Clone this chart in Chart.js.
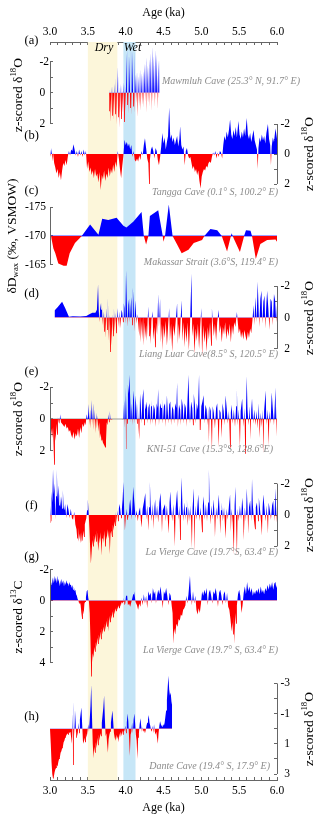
<!DOCTYPE html>
<html>
<head>
<meta charset="utf-8">
<script src="https://cdn.jsdelivr.net/npm/chart.js@4.4.1/dist/chart.umd.min.js"></script>
<style>
  html, body { margin: 0; padding: 0; background: #fff; }
  #wrap { width: 320px; height: 819px; }
</style>
</head>
<body>
<div id="wrap"><canvas id="chart" width="320" height="819"></canvas></div>
<script>
// Age axis (ka)
const xTicks = [3.0,3.1,3.2,3.3,3.4,3.5,3.6,3.7,3.8,3.9,4.0,4.1,4.2,4.3,4.4,4.5,4.6,4.7,4.8,4.9,5.0,5.1,5.2,5.3,5.4,5.5,5.6,5.7,5.8,5.9,6.0];
const xLabels = [3.0, 3.5, 4.0, 4.5, 5.0, 5.5, 6.0];
const dryBand = [3.50, 3.89];
const wetBand = [3.97, 4.13];

// y ticks
const zTicks = [-2, -1, 0, 1, 2];
const zLabels = [-2, 0, 2];
const dDTicks = [-175, -170, -165];
const c13Ticks = [-2, -1, 0, 1, 2, 3, 4];
const c13Labels = [-2, 0, 2, 4];
const danteTicks = [-3, -2, -1, 0, 1, 2, 3];
const danteLabels = [-3, -1, 1, 3];

// (a) Mawmluh Cave, z-scored d18O  [age, value]
const mawmluh = [
[3.78,1.2],[3.79,-0.3],[3.80,1.9],[3.81,-0.4],[3.82,1.5],[3.83,-0.5],[3.84,1.8],[3.85,-0.6],[3.86,1.4],[3.87,-1.0],
[3.88,2.1],[3.89,-1.7],[3.90,1.6],[3.91,-1.2],[3.92,2.3],[3.93,-0.6],[3.94,1.7],[3.95,-0.5],[3.96,1.3],[3.97,-0.7],
[3.98,1.9],[3.99,-0.6],[4.00,1.2],[4.01,-2.6],[4.02,0.8],[4.03,-2.9],[4.04,1.4],[4.05,-2.4],[4.06,1.0],[4.07,-3.1],
[4.08,1.5],[4.09,-2.7],[4.10,0.9],[4.11,-2.8],[4.12,1.3],[4.13,-1.2],[4.14,0.7],[4.15,-1.4],[4.16,1.6],[4.17,-1.1],
[4.18,0.9],[4.19,-1.5],[4.20,1.2],[4.21,-1.3],[4.22,0.8],[4.23,-1.4],[4.24,1.0],[4.25,-1.9],[4.26,0.6],[4.27,-2.3],
[4.28,1.3],[4.29,-1.8],[4.30,0.7],[4.31,-2.2],[4.32,0.9],[4.33,-2.6],[4.34,1.2],[4.35,-3.0],[4.36,0.6],[4.37,-2.4],
[4.38,1.0],[4.39,-2.8],[4.40,0.5],[4.41,-2.5],[4.42,1.1],[4.43,-2.1],[4.44,0.4],[4.45,-2.2]
];

// (b) Tangga Cave, z-scored d18O
const tangga = [
[3.000,-0.3],[3.010,0.2],[3.020,-0.4],[3.030,0.5],[3.040,-0.1],[3.055,0.6],[3.070,0.9],[3.085,1.3],[3.100,1.0],[3.115,1.6],
[3.130,1.2],[3.145,1.75],[3.160,1.1],[3.175,0.6],[3.190,0.8],[3.205,0.4],[3.220,0.75],[3.235,0.2],[3.250,-0.2],[3.265,0.1],
[3.280,-0.3],[3.295,-0.2],[3.310,-0.65],[3.325,-0.3],[3.340,0.1],[3.355,-0.2],[3.370,0.2],[3.385,-0.3],[3.400,0.1],[3.415,-0.2],
[3.430,0.2],[3.445,-0.3],[3.460,0.1],[3.475,-0.2],[3.490,1.0],[3.505,0.5],[3.520,1.2],[3.535,0.9],[3.550,1.4],[3.565,1.1],
[3.580,1.6],[3.595,1.0],[3.610,1.5],[3.625,1.3],[3.640,1.9],[3.655,1.2],[3.670,2.4],[3.685,1.4],[3.700,1.7],[3.715,1.1],
[3.730,1.8],[3.745,1.3],[3.760,1.6],[3.775,0.9],[3.790,1.5],[3.805,1.0],[3.820,1.3],[3.835,0.7],[3.850,1.2],[3.865,0.5],
[3.880,0.9],[3.895,-0.2],[3.910,0.3],[3.925,1.0],[3.940,1.6],[3.955,0.8],[3.970,0.1],[3.985,-0.95],[4.000,-0.6],[4.015,-0.8],
[4.030,-0.5],[4.045,-0.7],[4.060,-0.3],[4.075,-0.6],[4.090,0.2],[4.105,-0.2],[4.120,0.4],[4.135,0.5],[4.150,0.3],[4.165,0.5],
[4.180,0.1],[4.195,0.4],[4.210,-0.2],[4.225,0.1],[4.240,-0.6],[4.255,-1.05],[4.270,-0.4],[4.285,0.3],[4.300,0.6],[4.310,2.0],
[4.320,0.4],[4.335,-0.3],[4.350,-0.5],[4.365,-0.2],[4.380,0.3],[4.395,-0.4],[4.410,-0.2],[4.425,0.4],[4.440,0.75],[4.455,0.2],
[4.470,-0.5],[4.485,-1.4],[4.500,-0.7],[4.515,-1.1],[4.530,-0.3],[4.545,-0.8],[4.560,-1.2],[4.575,-3.1],[4.590,-1.0],[4.605,-1.3],
[4.620,-0.8],[4.635,-1.1],[4.650,-0.6],[4.665,-0.9],[4.680,-1.2],[4.695,-0.5],[4.710,-1.0],[4.720,-1.85],[4.735,-0.6],[4.750,-0.3],
[4.765,-0.5],[4.780,0.75],[4.795,-0.2],[4.810,-0.4],[4.825,0.1],[4.840,0.3],[4.855,0.2],[4.870,0.6],[4.885,1.0],[4.900,0.8],
[4.915,1.2],[4.930,1.0],[4.945,1.4],[4.960,1.1],[4.975,1.8],[4.990,2.3],[5.005,1.5],[5.020,1.2],[5.035,1.0],[5.050,1.1],
[5.065,0.8],[5.080,0.9],[5.095,0.6],[5.110,0.5],[5.125,0.6],[5.140,0.2],[5.155,-0.1],[5.170,0.1],[5.185,-0.2],[5.200,0.3],
[5.215,-0.1],[5.230,0.2],[5.245,-0.2],[5.260,-0.1],[5.275,0.3],[5.290,-0.6],[5.305,-1.2],[5.320,-0.9],[5.335,-1.5],[5.350,-1.1],
[5.365,-1.6],[5.380,-2.3],[5.395,-1.3],[5.410,-1.0],[5.425,-1.6],[5.440,-1.2],[5.455,-1.8],[5.470,-1.1],[5.490,-2.2],[5.505,-1.3],
[5.520,-1.0],[5.535,-1.5],[5.550,-1.1],[5.565,-1.7],[5.580,-1.2],[5.600,-2.4],[5.615,-1.3],[5.630,-1.0],[5.645,-1.4],[5.660,-0.8],
[5.675,-1.2],[5.690,-1.6],[5.705,-0.9],[5.720,-0.6],[5.735,-0.3],[5.745,1.0],[5.755,-0.4],[5.770,-1.1],[5.785,-0.8],[5.800,-1.3],
[5.815,-0.9],[5.830,-1.2],[5.845,-0.7],[5.860,-1.4],[5.880,-2.0],[5.895,-1.0],[5.910,-0.6],[5.920,0.75],[5.930,-0.5],[5.945,-1.1],
[5.960,-0.8],[5.980,-1.7],[6.000,-1.0]
];

// (c) Makassar Strait, dD wax (permil VSMOW)
const makassar = [
[3.000,-171.5],[3.010,-170.6],[3.020,-169.5],[3.045,-167.8],[3.070,-167.0],[3.110,-165.2],[3.180,-164.8],[3.220,-164.8],
[3.260,-167.0],[3.330,-168.8],[3.420,-170.0],[3.530,-172.0],[3.640,-170.2],[3.690,-173.0],[3.770,-172.8],[3.880,-173.2],
[3.970,-171.8],[4.010,-171.5],[4.100,-172.5],[4.210,-174.2],[4.240,-170.0],[4.270,-168.5],[4.300,-170.0],[4.320,-173.5],
[4.430,-174.5],[4.490,-170.0],[4.500,-169.0],[4.520,-170.0],[4.570,-175.5],[4.620,-170.0],[4.680,-168.5],[4.740,-167.0],
[4.830,-167.6],[4.900,-168.8],[5.010,-169.3],[5.040,-170.0],[5.120,-171.2],[5.210,-171.0],[5.270,-170.0],[5.340,-167.3],
[5.400,-170.5],[5.430,-169.5],[5.510,-167.2],[5.570,-170.2],[5.590,-171.0],[5.650,-170.9],[5.670,-170.0],[5.720,-166.0],
[5.780,-168.6],[5.870,-169.3],[5.980,-169.4],[6.000,-169.0]
];

// (d) Liang Luar Cave, z-scored d18O
const liangLuar = [
[3.057,0],[3.060,-0.45],[3.100,-0.65],[3.160,-1.0],[3.200,-0.6],[3.250,-0.05],[3.300,-0.08],[3.400,-0.06],[3.480,-0.1],[3.520,-0.2],
[3.560,-0.3],[3.600,-0.3],[3.620,-0.5],[3.635,-2.1],[3.645,-0.4],[3.655,0.3],[3.665,-0.9],[3.675,-0.5],[3.685,-1.0],[3.695,0.5],
[3.705,-0.4],[3.715,0.9],[3.725,-0.3],[3.735,1.3],[3.745,-0.6],[3.755,0.8],[3.765,-1.3],[3.775,1.5],[3.785,-0.2],[3.795,2.2],
[3.805,0.4],[3.815,1.8],[3.825,-0.2],[3.835,1.2],[3.845,-0.6],[3.855,0.9],[3.865,-0.3],[3.875,1.0],[3.885,0.3],[3.895,-0.6],
[3.905,0.6],[3.915,-0.4],[3.925,0.7],[3.935,0.2],[3.945,-0.5],[3.955,-0.3],[3.965,0.3],[3.975,-0.9],[3.985,-0.6],[3.995,0.4],
[4.005,-3.0],[4.015,-1.0],[4.025,0.6],[4.035,-0.8],[4.045,-1.2],[4.055,0.3],[4.065,-0.6],[4.075,-1.3],[4.085,0.5],[4.095,-1.9],
[4.105,-0.9],[4.115,0.9],[4.125,-1.1],[4.135,-0.4],[4.145,0.4],[4.155,-0.2],[4.165,0.3],[4.180,1.2],[4.190,-0.1],[4.200,1.6],
[4.210,0.2],[4.220,1.4],[4.230,-0.1],[4.240,1.8],[4.250,0.3],[4.260,1.3],[4.270,0.5],[4.280,1.5],[4.290,0.2],[4.300,-0.7],
[4.310,1.2],[4.320,0.4],[4.330,1.7],[4.340,0.2],[4.355,-0.4],[4.365,1.4],[4.380,0.6],[4.390,1.9],[4.400,0.3],[4.415,1.1],
[4.430,-1.5],[4.440,0.6],[4.455,-1.2],[4.465,1.6],[4.480,0.4],[4.490,2.1],[4.500,0.5],[4.515,1.3],[4.530,0.2],[4.545,1.8],
[4.560,0.6],[4.575,-0.6],[4.585,1.5],[4.600,0.4],[4.615,2.2],[4.630,0.5],[4.645,1.2],[4.660,0.3],[4.680,-0.9],[4.690,1.7],
[4.700,0.4],[4.715,1.4],[4.725,0.2],[4.740,-1.1],[4.750,1.5],[4.765,0.3],[4.780,1.9],[4.790,0.6],[4.805,1.6],[4.820,0.3],
[4.835,2.1],[4.850,0.5],[4.870,-2.8],[4.880,1.2],[4.895,0.4],[4.910,2.3],[4.925,0.7],[4.940,1.5],[4.955,0.4],[4.970,2.0],
[4.985,0.6],[5.000,-0.6],[5.010,2.5],[5.025,0.5],[5.040,1.6],[5.055,0.8],[5.070,2.2],[5.085,0.6],[5.100,1.4],[5.115,0.3],
[5.130,1.8],[5.140,-0.6],[5.150,0.2],[5.165,1.2],[5.180,0.4],[5.195,1.5],[5.210,0.3],[5.230,-0.5],[5.240,1.0],[5.255,0.5],
[5.270,1.6],[5.285,0.6],[5.300,1.1],[5.315,0.3],[5.330,1.4],[5.345,0.7],[5.360,1.2],[5.375,0.4],[5.390,1.6],[5.405,0.5],
[5.420,1.1],[5.435,0.3],[5.450,0.6],[5.470,-0.35],[5.480,0.2],[5.495,1.0],[5.510,0.7],[5.525,1.3],[5.540,0.9],[5.555,1.4],
[5.570,0.8],[5.585,1.2],[5.600,1.5],[5.615,0.9],[5.630,1.3],[5.645,0.7],[5.660,1.0],[5.675,0.2],[5.690,-0.8],[5.700,0.5],
[5.715,-1.3],[5.730,0.3],[5.745,-2.3],[5.755,-0.8],[5.765,0.6],[5.780,-1.2],[5.795,-1.7],[5.805,0.4],[5.820,-1.0],[5.835,-1.4],
[5.845,0.7],[5.860,-0.9],[5.870,-1.7],[5.885,-0.6],[5.900,0.8],[5.915,-1.2],[5.930,-1.0],[5.945,0.5],[5.960,-1.5],[5.975,-1.1],
[5.990,0.3],[6.000,-0.8]
];

// (e) KNI-51 Cave, z-scored d18O
const kni51 = [
[3.000,0.8],[3.010,1.5],[3.020,0.6],[3.030,1.2],[3.040,0.5],[3.055,2.9],[3.065,0.9],[3.075,1.4],[3.085,0.3],[3.095,1.0],
[3.105,-0.1],[3.115,0.2],[3.125,0.3],[3.135,-0.3],[3.145,0.2],[3.160,0.3],[3.175,0.4],[3.190,0.5],[3.205,0.3],[3.220,0.6],
[3.235,0.5],[3.250,0.8],[3.265,0.7],[3.280,1.0],[3.295,1.2],[3.310,0.8],[3.325,1.3],[3.340,0.9],[3.355,1.1],[3.370,0.6],
[3.385,1.2],[3.400,0.5],[3.415,0.9],[3.430,0.3],[3.445,0.5],[3.460,0.2],[3.470,0.4],[3.485,-0.3],[3.500,0.1],[3.510,-0.95],
[3.520,0.4],[3.530,-0.6],[3.540,0.6],[3.550,-1.2],[3.560,0.4],[3.570,-1.0],[3.580,0.7],[3.590,-0.6],[3.600,0.9],[3.610,-0.4],
[3.620,0.6],[3.630,-0.2],[3.640,0.8],[3.650,0.2],[3.660,1.2],[3.670,0.9],[3.680,1.4],[3.690,1.3],[3.700,1.5],[3.710,1.6],
[3.720,1.7],[3.730,1.8],[3.740,1.4],[3.750,0.2],[3.760,0.4],[3.770,-0.3],[3.780,0.2],[3.790,-0.5],[3.800,0.05],[3.830,0],
[3.880,0],[3.940,0],[3.970,0.02],[3.980,-1.2],[3.990,0.6],[4.000,-2.0],[4.005,1.9],[4.010,-1.5],[4.020,0.3],[4.030,-2.2],
[4.040,-1.6],[4.050,-2.8],[4.060,-1.2],[4.070,0.2],[4.080,-1.0],[4.090,0.4],[4.100,-1.8],[4.110,-1.2],[4.120,0.3],[4.130,-1.5],
[4.140,-0.8],[4.150,0.3],[4.160,-1.0],[4.170,0.5],[4.180,1.3],[4.190,-1.6],[4.200,-0.9],[4.210,0.3],[4.220,-1.2],[4.235,-1.9],
[4.245,0.4],[4.255,-1.0],[4.265,-0.6],[4.280,-1.1],[4.290,0.3],[4.300,-0.7],[4.315,-1.0],[4.325,0.4],[4.335,-0.8],[4.345,-1.2],
[4.355,0.3],[4.370,-0.9],[4.385,-0.6],[4.395,0.5],[4.410,-1.0],[4.420,-0.7],[4.430,-1.9],[4.440,0.4],[4.455,-1.0],[4.470,-0.7],
[4.480,-1.3],[4.490,0.3],[4.505,-0.8],[4.520,-1.0],[4.530,0.5],[4.545,-1.5],[4.555,-0.6],[4.565,0.3],[4.575,-0.9],[4.590,-1.1],
[4.600,0.4],[4.615,-0.8],[4.630,-0.6],[4.640,0.3],[4.655,-1.0],[4.670,-0.7],[4.680,-2.3],[4.690,0.5],[4.705,-0.9],[4.720,-0.6],
[4.730,0.4],[4.740,-1.3],[4.755,-0.8],[4.765,0.3],[4.780,-1.0],[4.795,-0.7],[4.805,0.5],[4.815,-0.9],[4.830,-2.8],[4.840,-0.8],
[4.850,0.3],[4.865,-1.1],[4.880,-0.7],[4.890,0.4],[4.900,-1.6],[4.915,-0.9],[4.925,0.3],[4.940,-1.0],[4.955,-0.6],[4.970,-2.8],
[4.980,0.7],[4.990,0.7],[5.000,-0.8],[5.015,-1.1],[5.030,-1.5],[5.040,0.3],[5.055,-0.9],[5.070,-0.6],[5.080,0.4],[5.090,-0.7],
[5.100,1.5],[5.110,-0.8],[5.125,-0.5],[5.140,2.0],[5.150,-0.8],[5.165,-0.4],[5.180,0.6],[5.195,-0.7],[5.210,-1.0],[5.220,0.4],
[5.230,1.8],[5.240,-0.6],[5.255,-0.4],[5.270,1.2],[5.280,-1.0],[5.295,-0.5],[5.310,0.4],[5.320,-1.5],[5.335,-0.7],[5.350,0.3],
[5.365,-0.5],[5.380,1.8],[5.390,-0.4],[5.400,-0.9],[5.415,0.3],[5.430,-0.6],[5.445,0.5],[5.460,-0.8],[5.470,-1.9],[5.480,0.4],
[5.495,-0.6],[5.510,1.8],[5.520,-0.5],[5.540,-1.3],[5.555,0.5],[5.570,-0.7],[5.580,2.2],[5.590,-0.5],[5.600,-2.7],[5.610,-0.6],
[5.625,0.4],[5.640,-0.8],[5.650,1.3],[5.660,-0.6],[5.670,-1.3],[5.685,0.3],[5.700,-0.6],[5.715,0.4],[5.730,-0.5],[5.745,0.6],
[5.760,-1.0],[5.770,1.2],[5.785,-0.4],[5.800,0.5],[5.810,-0.6],[5.820,2.2],[5.830,-0.5],[5.850,-1.8],[5.860,0.4],[5.875,-0.6],
[5.890,1.7],[5.900,-0.5],[5.915,0.3],[5.930,-1.7],[5.945,-0.6],[5.960,0.4],[5.980,-2.0],[5.990,1.1],[6.000,-0.8]
];

// (f) La Vierge Cave, z-scored d18O
const vierge18 = [
[3.000,0.5],[3.005,-0.6],[3.015,0.4],[3.020,-1.5],[3.030,-0.8],[3.040,-2.9],[3.050,-1.3],[3.060,-2.0],[3.070,0.3],[3.080,-1.2],
[3.090,-2.9],[3.100,-1.0],[3.110,-1.9],[3.120,-0.6],[3.130,-1.4],[3.140,-0.5],[3.150,-1.2],[3.160,-0.4],[3.170,-1.6],[3.180,-0.5],
[3.190,-0.3],[3.200,-0.7],[3.215,0.2],[3.230,-0.7],[3.245,-0.3],[3.260,0.2],[3.275,-0.4],[3.290,0.2],[3.305,0.3],[3.320,-0.2],
[3.335,0.6],[3.350,0.9],[3.360,1.5],[3.370,0.8],[3.380,1.7],[3.390,1.2],[3.400,1.8],[3.410,1.1],[3.420,1.7],[3.430,1.6],
[3.440,1.0],[3.450,1.4],[3.460,0.6],[3.470,0.4],[3.480,0.2],[3.490,-0.3],[3.500,-1.0],[3.510,-0.2],[3.520,0.8],[3.530,2.0],
[3.540,3.1],[3.550,2.4],[3.560,1.6],[3.570,2.0],[3.580,1.3],[3.590,1.8],[3.600,1.2],[3.610,1.7],[3.620,1.0],[3.630,1.7],
[3.640,2.3],[3.650,1.4],[3.660,1.8],[3.670,1.1],[3.680,2.6],[3.690,1.5],[3.700,1.2],[3.710,1.8],[3.720,1.0],[3.730,2.0],
[3.740,1.3],[3.750,1.6],[3.760,0.9],[3.770,1.5],[3.780,1.0],[3.790,2.5],[3.800,1.2],[3.810,1.0],[3.820,1.4],[3.830,0.6],
[3.840,1.0],[3.850,0.4],[3.860,0.7],[3.870,-0.2],[3.880,0.5],[3.890,-0.3],[3.900,0.4],[3.910,-0.4],[3.920,-0.7],[3.930,-0.3],
[3.940,0.2],[3.950,-0.4],[3.960,-1.0],[3.970,-2.1],[3.980,-0.3],[3.990,1.0],[4.000,0.2],[4.010,-0.4],[4.020,0.3],[4.030,-0.2],
[4.040,0.2],[4.050,-0.6],[4.060,-1.0],[4.070,-0.4],[4.080,0.3],[4.090,-0.7],[4.100,-1.8],[4.110,-1.1],[4.120,-0.5],[4.130,0.2],
[4.145,-0.3],[4.160,0.4],[4.175,-0.2],[4.190,-0.5],[4.200,0.3],[4.210,0.8],[4.225,-0.4],[4.240,-0.8],[4.260,-1.4],[4.270,0.3],
[4.285,-0.6],[4.300,1.0],[4.310,-0.5],[4.320,-2.1],[4.330,-0.6],[4.345,0.4],[4.360,-0.7],[4.370,0.9],[4.380,-0.5],[4.390,-1.0],
[4.400,0.3],[4.415,-0.6],[4.430,0.5],[4.445,-0.8],[4.460,-1.4],[4.470,-0.4],[4.480,1.1],[4.490,-0.3],[4.505,-0.5],[4.520,-0.7],
[4.530,0.4],[4.545,-0.6],[4.560,0.5],[4.570,1.2],[4.580,-0.8],[4.590,-1.5],[4.600,-0.5],[4.615,0.4],[4.630,-0.7],[4.640,0.6],
[4.650,2.0],[4.660,-0.4],[4.680,-1.6],[4.690,-0.5],[4.700,0.3],[4.710,-0.6],[4.720,1.6],[4.730,-0.7],[4.740,-2.4],[4.750,-0.6],
[4.760,0.4],[4.775,-0.8],[4.790,0.3],[4.800,-0.5],[4.810,-1.0],[4.820,0.7],[4.835,-0.5],[4.850,0.4],[4.860,-0.6],[4.875,2.1],
[4.885,-0.5],[4.900,-1.7],[4.910,2.4],[4.920,-0.6],[4.935,0.3],[4.950,-0.7],[4.960,-1.3],[4.975,0.4],[4.990,-0.5],[5.010,1.1],
[5.020,-0.6],[5.030,-1.2],[5.045,0.3],[5.060,-0.7],[5.075,0.4],[5.090,-0.8],[5.100,-2.9],[5.110,-0.8],[5.120,0.6],[5.135,-0.6],
[5.150,0.3],[5.160,-1.0],[5.170,-0.4],[5.180,1.4],[5.195,-0.5],[5.210,0.3],[5.230,-1.3],[5.240,-0.4],[5.250,1.2],[5.260,-0.3],
[5.270,-0.8],[5.285,0.4],[5.300,-0.5],[5.320,1.5],[5.335,-0.4],[5.350,0.3],[5.365,-0.6],[5.380,-1.3],[5.390,1.1],[5.400,-0.4],
[5.415,0.5],[5.430,2.5],[5.440,-0.6],[5.450,-1.8],[5.460,0.6],[5.470,2.6],[5.480,-0.4],[5.495,0.4],[5.510,-0.6],[5.525,0.3],
[5.540,-1.1],[5.550,-0.5],[5.560,1.6],[5.575,-0.5],[5.590,0.4],[5.600,-1.7],[5.610,-0.6],[5.620,1.2],[5.630,-0.5],[5.645,-0.9],
[5.660,0.4],[5.670,-2.3],[5.680,-0.7],[5.695,0.3],[5.710,0.9],[5.720,-0.5],[5.735,-0.8],[5.750,0.4],[5.760,-1.1],[5.775,-0.4],
[5.790,0.5],[5.800,1.3],[5.810,-0.5],[5.820,-1.3],[5.835,-0.4],[5.850,0.4],[5.865,-0.6],[5.880,1.2],[5.890,-0.8],[5.905,-0.3],
[5.920,0.3],[5.935,-0.6],[5.950,-0.9],[5.965,0.4],[5.980,-1.7],[5.990,0.5],[6.000,-0.6]
];

// (g) La Vierge Cave, z-scored d13C
const vierge13 = [
[3.000,0.3],[3.005,-0.6],[3.015,-1.2],[3.025,-0.9],[3.035,-1.5],[3.045,-1.1],[3.055,-1.6],[3.065,-1.2],[3.075,-1.5],[3.085,-1.1],
[3.095,-1.6],[3.105,-1.2],[3.115,-1.4],[3.125,-0.9],[3.135,-1.3],[3.145,-1.0],[3.155,-1.4],[3.165,-1.1],[3.175,-1.3],[3.185,-0.9],
[3.195,-1.2],[3.205,-1.0],[3.215,-1.3],[3.225,-1.1],[3.235,-1.2],[3.245,-0.9],[3.255,-1.2],[3.265,-1.0],[3.275,-1.1],[3.285,-0.8],
[3.295,-1.0],[3.305,-0.7],[3.315,-0.9],[3.325,-0.6],[3.335,-0.7],[3.345,-0.4],[3.355,-0.3],[3.365,-0.1],[3.375,0.0],[3.385,0.2],
[3.395,0.1],[3.405,0.3],[3.415,0.8],[3.425,1.2],[3.435,0.6],[3.445,0.9],[3.455,0.2],[3.465,0.1],[3.475,-0.2],[3.485,-0.6],
[3.495,-0.7],[3.505,-0.2],[3.515,0.1],[3.525,0.8],[3.535,2.6],[3.545,4.9],[3.555,4.0],[3.565,3.4],[3.575,3.7],[3.585,3.0],
[3.595,3.3],[3.605,2.7],[3.615,3.0],[3.625,2.4],[3.635,2.8],[3.645,2.2],[3.655,2.6],[3.665,2.0],[3.675,2.5],[3.685,1.8],
[3.695,2.2],[3.705,1.7],[3.715,2.0],[3.725,1.5],[3.735,1.9],[3.745,1.3],[3.755,1.7],[3.765,1.1],[3.775,2.0],[3.785,1.0],
[3.795,1.4],[3.805,0.9],[3.815,1.2],[3.825,0.7],[3.835,1.1],[3.845,0.6],[3.855,0.9],[3.865,0.5],[3.875,0.7],[3.885,0.4],
[3.895,0.6],[3.905,0.3],[3.915,0.5],[3.925,0.2],[3.935,0.4],[3.945,0.1],[3.955,0.2],[3.965,0.1],[3.975,-0.2],[3.985,0.3],
[3.995,0.2],[4.005,-0.3],[4.020,-0.3],[4.030,0.3],[4.045,0.2],[4.060,0.4],[4.075,0.1],[4.090,-0.2],[4.100,-0.4],[4.110,-0.6],
[4.120,-0.3],[4.130,0.1],[4.150,0.3],[4.165,0.6],[4.180,0.2],[4.195,0.4],[4.210,-0.2],[4.225,0.3],[4.240,-0.4],[4.255,0.2],
[4.270,-0.3],[4.285,0.5],[4.300,-0.6],[4.315,-0.3],[4.330,-0.5],[4.345,0.2],[4.360,-0.8],[4.375,-0.4],[4.390,-0.6],[4.400,0.2],
[4.415,-0.3],[4.430,-0.7],[4.445,-0.4],[4.460,-0.9],[4.475,-0.3],[4.490,0.5],[4.505,-0.6],[4.520,-0.4],[4.535,-0.8],[4.550,-0.3],
[4.565,0.3],[4.580,-0.5],[4.595,-0.3],[4.610,0.4],[4.620,0.8],[4.630,2.8],[4.640,1.8],[4.655,2.2],[4.670,1.5],[4.685,1.7],
[4.700,1.2],[4.715,1.3],[4.730,0.9],[4.745,1.0],[4.760,0.6],[4.775,0.5],[4.790,0.3],[4.800,-0.3],[4.815,0.2],[4.830,-0.4],
[4.850,-1.6],[4.860,-0.5],[4.875,0.3],[4.890,-0.6],[4.905,0.2],[4.920,-0.3],[4.935,0.6],[4.950,0.9],[4.965,0.5],[4.980,0.8],
[4.995,0.2],[5.010,-0.6],[5.025,-0.3],[5.040,-0.7],[5.055,-0.4],[5.070,-0.8],[5.085,0.3],[5.100,-0.5],[5.115,-0.7],[5.130,-0.3],
[5.145,0.2],[5.160,-0.6],[5.175,-0.4],[5.190,-0.8],[5.205,-0.3],[5.220,0.4],[5.235,-0.5],[5.250,-0.7],[5.265,-0.3],[5.280,0.3],
[5.295,-0.4],[5.310,-0.6],[5.325,0.2],[5.340,-0.5],[5.355,0.4],[5.370,0.6],[5.385,1.2],[5.400,2.0],[5.410,1.4],[5.420,2.2],
[5.430,1.0],[5.440,2.8],[5.450,0.8],[5.460,1.5],[5.470,0.3],[5.485,-0.4],[5.500,-0.7],[5.515,-0.3],[5.530,0.8],[5.545,0.3],
[5.560,-0.5],[5.575,-0.9],[5.590,-0.4],[5.605,-1.2],[5.620,-0.6],[5.635,-0.9],[5.650,-0.5],[5.665,-0.8],[5.680,-0.3],[5.695,-0.6],
[5.710,-0.4],[5.725,-0.7],[5.740,-0.5],[5.755,-0.8],[5.770,-0.4],[5.785,-0.9],[5.800,-0.5],[5.815,-0.7],[5.830,-0.4],[5.845,-0.8],
[5.860,-0.6],[5.875,-1.0],[5.890,-0.7],[5.905,-1.1],[5.920,-0.8],[5.935,-1.2],[5.950,-0.7],[5.965,-1.1],[5.980,-1.2],[5.990,-0.8],
[6.000,-1.0]
];

// (h) Dante Cave, z-scored d18O
const dante = [
[3.000,0.0],[3.010,1.0],[3.020,2.2],[3.030,3.0],[3.040,3.3],[3.050,3.2],[3.060,2.9],[3.070,2.7],[3.080,2.6],[3.090,2.4],
[3.100,2.5],[3.110,2.2],[3.120,2.0],[3.130,1.9],[3.140,1.6],[3.150,1.5],[3.160,1.3],[3.170,1.2],[3.180,0.9],[3.190,0.8],
[3.200,0.6],[3.210,0.5],[3.220,0.4],[3.230,0.3],[3.240,0.4],[3.250,0.2],[3.260,0.3],[3.270,0.2],[3.280,0.6],[3.290,1.0],
[3.300,-1.0],[3.305,2.4],[3.315,-1.8],[3.325,0.5],[3.335,-1.2],[3.345,0.6],[3.355,0.2],[3.365,0.5],[3.375,-0.4],[3.385,0.3],
[3.395,-0.6],[3.405,-1.0],[3.415,-1.4],[3.425,-0.3],[3.435,0.8],[3.445,1.0],[3.455,0.6],[3.465,0.9],[3.475,0.3],[3.485,0.6],
[3.495,0.2],[3.505,-0.3],[3.515,0.2],[3.525,-0.6],[3.535,-1.5],[3.545,-2.9],[3.555,-0.8],[3.565,1.0],[3.575,1.96],[3.585,1.2],
[3.595,1.6],[3.605,0.9],[3.615,1.3],[3.625,0.6],[3.635,1.1],[3.645,0.4],[3.655,0.8],[3.665,0.3],[3.675,0.5],[3.685,-0.4],
[3.695,-0.9],[3.705,-1.4],[3.715,-2.2],[3.725,-0.7],[3.735,0.5],[3.745,0.3],[3.755,1.0],[3.765,1.6],[3.775,0.7],[3.785,0.4],
[3.795,0.2],[3.805,-0.4],[3.815,-0.8],[3.825,-1.2],[3.835,-0.5],[3.845,0.3],[3.855,0.6],[3.865,0.8],[3.875,0.4],[3.885,0.7],
[3.895,0.5],[3.905,0.9],[3.915,0.3],[3.925,0.6],[3.935,0.2],[3.945,0.5],[3.955,0.1],[3.965,0.4],[3.975,0.2],[3.985,0.1],
[3.995,-0.2],[4.005,0.3],[4.015,-0.4],[4.025,-1.0],[4.035,-0.5],[4.045,0.6],[4.055,1.8],[4.065,0.4],[4.075,0.2],[4.085,-0.4],
[4.095,0.3],[4.105,-0.6],[4.115,-1.0],[4.125,-0.4],[4.135,0.4],[4.145,0.8],[4.155,2.0],[4.165,0.6],[4.175,0.3],[4.185,-0.3],
[4.195,-0.7],[4.205,-0.2],[4.215,0.2],[4.225,-0.1],[4.235,0.2],[4.245,0.1],[4.255,0.3],[4.265,0.1],[4.275,-0.2],[4.285,-0.4],
[4.295,-0.6],[4.305,-0.9],[4.315,-0.4],[4.325,-0.2],[4.335,0.1],[4.345,0.2],[4.355,-0.2],[4.365,0.3],[4.375,-0.3],[4.385,0.2],
[4.395,0.4],[4.405,0.2],[4.415,0.6],[4.425,1.0],[4.435,0.3],[4.445,-0.2],[4.455,-0.5],[4.465,-0.3],[4.475,-0.2],[4.485,-0.1],
[4.495,-0.3],[4.505,-0.2],[4.515,-0.4],[4.525,-0.8],[4.535,-1.2],[4.545,-1.9],[4.555,-2.7],[4.565,-3.5],[4.575,-2.6],[4.585,-2.2],
[4.595,-2.4],[4.605,-1.8],[4.615,-1.5]
];

// zero lines visible under the fills
const makassarBase = [[3.0, -170], [6.0, -170]];
const kniBase = [[3.0, 0], [6.0, 0]];

const BLUE = '#0000ff';
const RED = '#ff0000';
const AXIS = '#666666';
const SERIF = "'Liberation Serif', 'Times New Roman', serif";
const TOP = 42, BOTTOM = 780, LEFT = 50, RIGHT = 277;

// each panel: its own y scale, placed by the pixel of its baseline and px per unit
const panels = [
  {id: 'ya', data: mawmluh,   side: 'left',  zero: 92.7,  k: 15.4, base: 0,    ticks: zTicks,     labels: zLabels,     labelX: 39.5},
  {id: 'yb', data: tangga,    side: 'right', zero: 154,   k: 15.0, base: 0,    ticks: zTicks,     labels: zLabels,     labelX: 290},
  {id: 'yc', data: makassar,  side: 'left',  zero: 236,   k: 5.73, base: -170, ticks: dDTicks,    labels: dDTicks,     labelX: 25},
  {id: 'yd', data: liangLuar, side: 'right', zero: 317.5, k: 15.7, base: 0,    ticks: zTicks,     labels: zLabels,     labelX: 290},
  {id: 'ye', data: kni51,     side: 'left',  zero: 419,   k: 15.8, base: 0,    ticks: zTicks,     labels: zLabels,     labelX: 39.5},
  {id: 'yf', data: vierge18,  side: 'right', zero: 515,   k: 15.7, base: 0,    ticks: zTicks,     labels: zLabels,     labelX: 290},
  {id: 'yg', data: vierge13,  side: 'left',  zero: 600.5, k: 15.5, base: 0,    ticks: c13Ticks,   labels: c13Labels,   labelX: 39.5},
  {id: 'yh', data: dante,     side: 'right', zero: 728.7, k: 15.1, base: 0,    ticks: danteTicks, labels: danteLabels, labelX: 290}
];

function yScale(p) {
  const min = p.base - (p.zero - TOP) / p.k;
  const max = min + (BOTTOM - TOP) / p.k;
  return {
    type: 'linear', position: p.side, reverse: true, min: min, max: max,
    afterFit: s => { s.width = 0; },
    afterBuildTicks: s => { s.ticks = p.ticks.map(v => ({value: v})); },
    ticks: {
      // mirrored labels are not clipped to the zero-width axis box
      mirror: true, autoSkip: false,
      padding: p.labelX - (p.side === 'left' ? LEFT : RIGHT),
      color: '#000', font: {family: SERIF, size: 11.5},
      callback: v => p.labels.includes(v) ? String(v) : ''
    },
    grid: {drawOnChartArea: false, tickLength: -3, color: AXIS},
    border: {display: false}
  };
}

function xScale(pos, height, titlePad) {
  return {
    type: 'linear', position: pos, min: 3, max: 6,
    afterFit: s => { s.height = height; },
    afterBuildTicks: s => { s.ticks = xTicks.map(v => ({value: v})); },
    ticks: {
      autoSkip: false, maxRotation: 0, padding: pos === 'top' ? 6 : 7.5,
      color: '#000', font: {family: SERIF, size: 11.5},
      callback: v => xLabels.some(l => Math.abs(l - v) < 1e-6) ? v.toFixed(1) : ''
    },
    grid: {drawOnChartArea: false, tickLength: -3, color: AXIS},
    border: {color: AXIS},
    title: {display: true, text: 'Age (ka)', color: '#000', font: {family: SERIF, size: 12}, padding: titlePad}
  };
}

const scales = {x: xScale('top', TOP, {top: 6, bottom: 0}), x2: xScale('bottom', 819 - BOTTOM, {top: 0, bottom: 4})};
panels.forEach(p => { scales[p.id] = yScale(p); });

// shaded Dry / Wet intervals behind the records
const bandPlugin = {
  id: 'bands',
  beforeDatasetsDraw(chart) {
    const {ctx, chartArea} = chart;
    const x = chart.scales.x;
    ctx.save();
    [[dryBand, '#fcf6da'], [wetBand, '#c6e6f7']].forEach(([b, c]) => {
      const x1 = x.getPixelForValue(b[0]);
      const x2 = x.getPixelForValue(b[1]);
      ctx.fillStyle = c;
      ctx.fillRect(x1, chartArea.top, x2 - x1, chartArea.bottom - chartArea.top);
    });
    ctx.restore();
  }
};

// y axis brackets only across the tick range
const bracketPlugin = {
  id: 'brackets',
  afterDraw(chart) {
    const {ctx, chartArea} = chart;
    ctx.save();
    ctx.strokeStyle = AXIS;
    ctx.lineWidth = 1;
    panels.forEach(p => {
      const s = chart.scales[p.id];
      const x = (p.side === 'left' ? chartArea.left : chartArea.right) + 0.5;
      ctx.beginPath();
      ctx.moveTo(x, s.getPixelForValue(p.ticks[0]));
      ctx.lineTo(x, s.getPixelForValue(p.ticks[p.ticks.length - 1]));
      ctx.stroke();
    });
    ctx.restore();
  }
};

const letters = [['(a)', 41], ['(b)', 136], ['(c)', 191], ['(d)', 294], ['(e)', 372], ['(f)', 506], ['(g)', 557], ['(h)', 717]];
const sites = [
  ['Mawmluh Cave (25.3° N, 91.7° E)', 162, 81, 'left'],
  ['Tangga Cave (0.1° S, 100.2° E)', 278, 192, 'right'],
  ['Makassar Strait (3.6°S, 119.4° E)', 278, 262.5, 'right'],
  ['Liang Luar Cave(8.5° S, 120.5° E)', 278, 354, 'right'],
  ['KNI-51 Cave (15.3°S, 128.6°E)', 273, 449, 'right'],
  ['La Vierge Cave (19.7°S, 63.4° E)', 278, 552.5, 'right'],
  ['La Vierge Cave (19.7° S, 63.4° E)', 278, 650, 'right'],
  ['Dante Cave (19.4° S, 17.9° E)', 270, 766, 'right']
];
const zO18 = [['z-scored δ', 0], ['18', 1], ['O', 0]];
const zC13 = [['z-scored δ', 0], ['13', 1], ['C', 0]];
const dDwax = [['δD', 0], ['wax', -1], [' (‰, VSMOW)', 0]];
const yTitles = [
  [zO18, 18, 95], [zO18, 309, 154], [dDwax, 12, 236], [zO18, 309, 318],
  [zO18, 18, 419], [zO18, 309, 515], [zC13, 18, 617], [zO18, 309, 729]
];

function drawRich(ctx, parts, cx, cy, size) {
  const fontOf = p => (p[1] ? size * 0.65 : size) + 'px ' + SERIF;
  ctx.save();
  ctx.translate(cx, cy);
  ctx.rotate(-Math.PI / 2);
  let w = 0;
  parts.forEach(p => { ctx.font = fontOf(p); w += ctx.measureText(p[0]).width; });
  let x = -w / 2;
  ctx.textAlign = 'left';
  ctx.textBaseline = 'middle';
  ctx.fillStyle = '#000';
  parts.forEach(p => {
    ctx.font = fontOf(p);
    const dy = p[1] > 0 ? -size * 0.3 : (p[1] < 0 ? size * 0.25 : 0);
    ctx.fillText(p[0], x, dy);
    x += ctx.measureText(p[0]).width;
  });
  ctx.restore();
}

const textPlugin = {
  id: 'texts',
  afterDraw(chart) {
    const ctx = chart.ctx;
    ctx.save();
    ctx.textBaseline = 'middle';
    ctx.fillStyle = '#000';
    ctx.textAlign = 'center';
    ctx.font = '12.5px ' + SERIF;
    letters.forEach(([t, y]) => ctx.fillText(t, 31.5, y));
    ctx.font = 'italic 12px ' + SERIF;
    ctx.fillText('Dry', 104, 48);
    ctx.fillText('Wet', 132.5, 48);
    ctx.fillStyle = '#8c8c8c';
    ctx.font = 'italic 10px ' + SERIF;
    sites.forEach(([t, x, y, a]) => { ctx.textAlign = a; ctx.fillText(t, x, y); });
    ctx.restore();
    yTitles.forEach(([parts, x, y]) => drawRich(ctx, parts, x, y, 13.5));
  }
};

const datasets = panels.map(p => ({
  data: p.data.map(d => ({x: d[0], y: d[1]})),
  xAxisID: 'x',
  yAxisID: p.id,
  borderWidth: 0,
  pointRadius: 0,
  tension: 0,
  backgroundColor: BLUE,
  fill: {target: {value: p.base}, above: BLUE, below: RED},
  order: 1
}));
[[makassarBase, 'yc', '#3b3bff'], [kniBase, 'ye', '#9a9a9a']].forEach(([d, id, c]) => {
  datasets.push({
    data: d.map(v => ({x: v[0], y: v[1]})),
    xAxisID: 'x', yAxisID: id,
    borderColor: c, borderWidth: 1, pointRadius: 0, fill: false,
    order: 5
  });
});

new Chart(document.getElementById('chart'), {
  type: 'line',
  data: {datasets: datasets},
  options: {
    responsive: false,
    animation: false,
    layout: {padding: {left: 50, right: 43, top: 0, bottom: 0}},
    plugins: {legend: {display: false}, tooltip: {enabled: false}},
    scales: scales
  },
  plugins: [bandPlugin, bracketPlugin, textPlugin]
});
</script>
</body>
</html>
